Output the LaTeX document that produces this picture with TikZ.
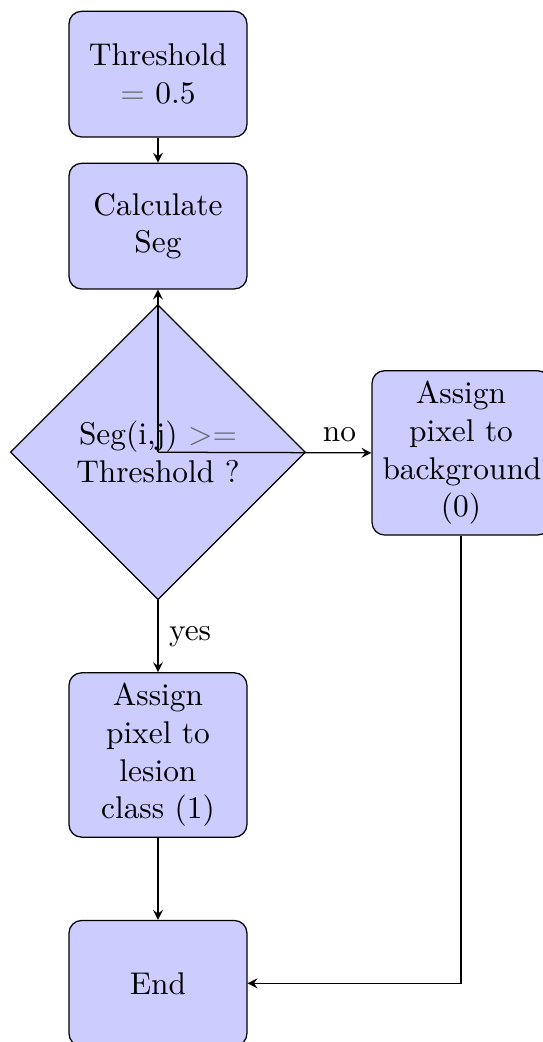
\documentclass[tikz,border=0pt]{standalone}
\usetikzlibrary{shapes.geometric,arrows}
\begin{document}
\begin{tikzpicture}[x=1pt,y=1pt,>=stealth,
  nohyph/.style={execute at begin node={\hyphenpenalty=10000\exhyphenpenalty=10000}},
  block/.style={rectangle, draw, fill=blue!20, text width=5em, align=center,
    rounded corners, minimum height=4em, nohyph},
  decision/.style={diamond, draw, fill=blue!20, text width=5.3em, align=center,
    inner sep=0pt, aspect=1, minimum width=94pt, minimum height=94pt, nohyph},
  line/.style={draw, ->}]
\useasboundingbox (0,0) rectangle (172.6,-331.8);
\node[block] (thr) at (50.3,-23.6) {Threshold {\color{black!60}$=$} 0.5};
\node[block] (calc) at (50.3,-72.0) {Calculate Seg};
\node[decision] (dec) at (50.3,-144.0) {Seg(i,j) {\color{black!60}$>=$} Threshold ?};
\node[block] (bg) at (146.8,-144.2) {Assign pixel to background (0)};
\node[block] (lesion) at (50.3,-240.4) {Assign pixel to lesion class (1)};
\node[block] (end) at (50.3,-313.1) {End};
\path[line] (thr) -- (calc);
\path[line] (dec.center) -- (calc.south);
\path[line] (dec.center) -- node[pos=0.85, above] {no} (bg.west);
\path[line] (dec.south) -- node[midway, right] {yes} (lesion.north);
\path[line] (lesion) -- (end);
\path[line] (bg.south) |- (end.east);
\end{tikzpicture}
\end{document}
